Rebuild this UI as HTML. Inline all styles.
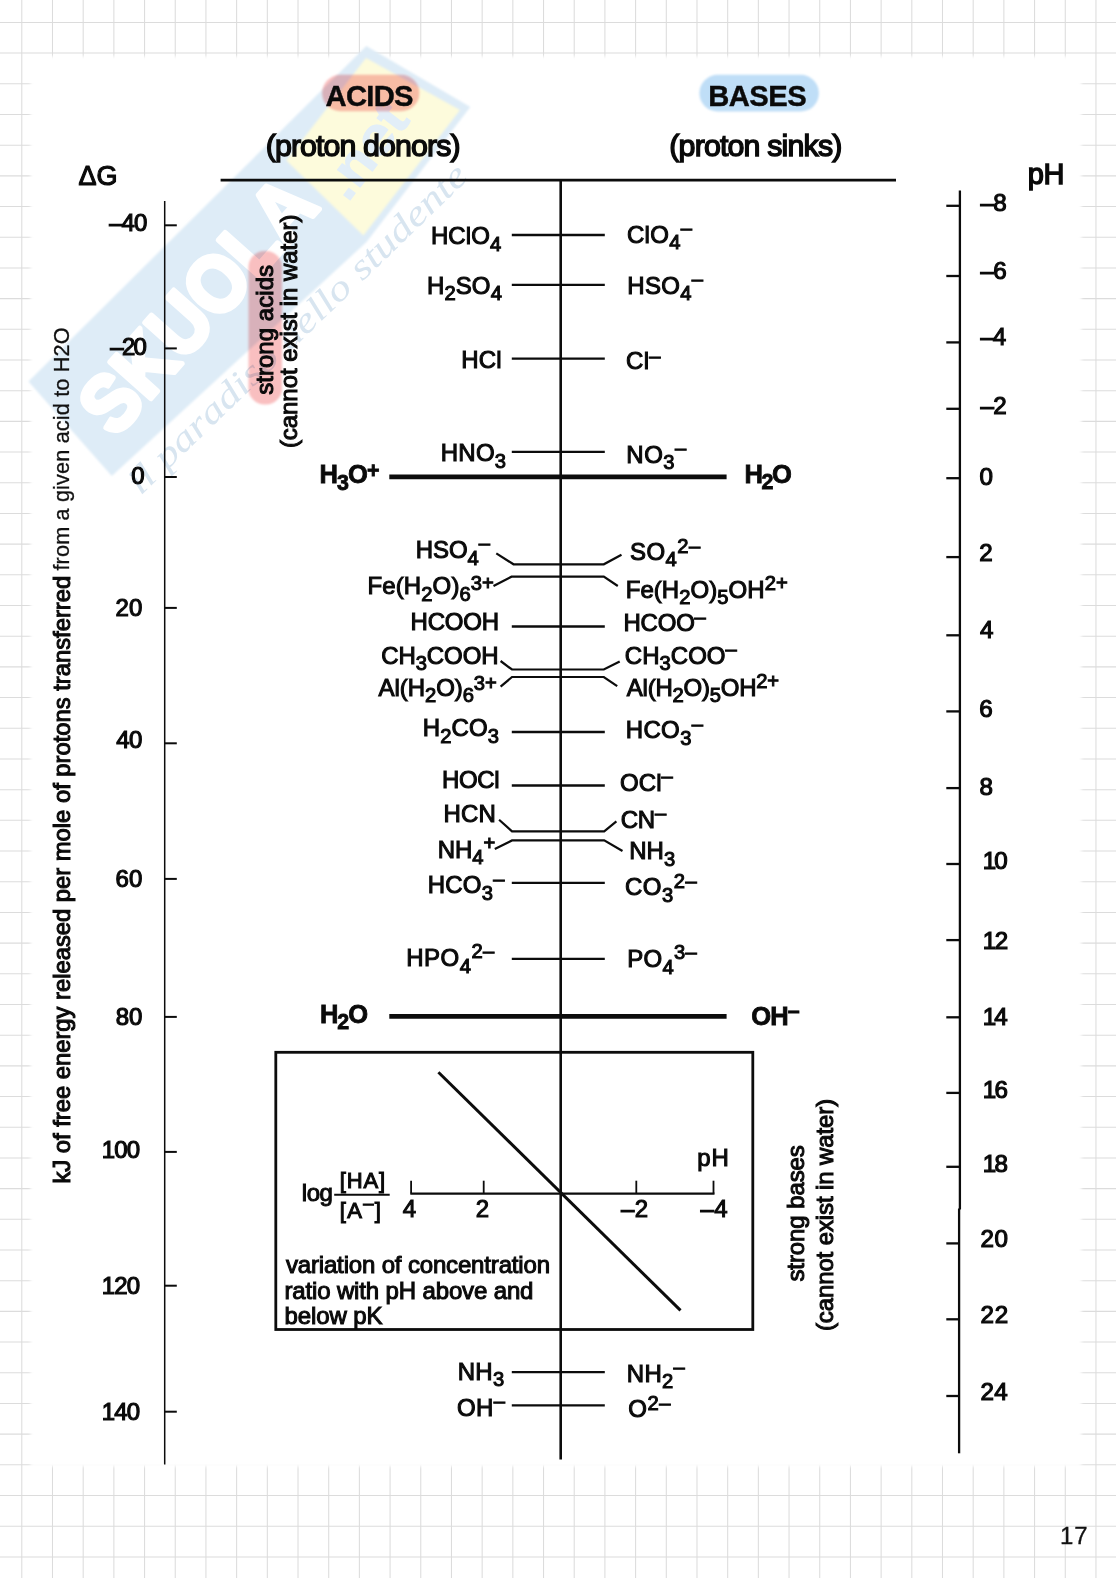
<!DOCTYPE html>
<html lang="en"><head><meta charset="utf-8"><title>Acids and bases – proton free energy diagram</title>
<style>
html,body{margin:0;padding:0;background:#fff}
body{width:1116px;height:1578px;overflow:hidden}
svg{display:block}
text{font-family:"Liberation Sans",Arial,Helvetica,sans-serif;fill:#0a0a0a;font-kerning:none;white-space:pre}
text.h{stroke:#0a0a0a;stroke-width:1.05px}
text.bh.b{stroke:#0a0a0a;stroke-width:.4px}
text.hd{stroke:#0a0a0a;stroke-width:1.4px}
text.hh{stroke:#0a0a0a;stroke-width:1.15px}
text.b{font-weight:bold;stroke-width:.8px}
text.l{fill:#111;stroke:#111;stroke-width:.3px}
text.wm{font-weight:bold;stroke-linejoin:round}
text.wmt{font-family:"Liberation Serif","DejaVu Serif",serif;font-style:italic}
</style></head><body>
<svg width="1116" height="1578" viewBox="0 0 1116 1578">
<defs>
<filter id="soft" x="-2%" y="-2%" width="104%" height="104%"><feGaussianBlur stdDeviation="1.6"/></filter>
<filter id="soft1" x="-10%" y="-10%" width="120%" height="120%"><feGaussianBlur stdDeviation="0.9"/></filter>
<filter id="soft2" x="-5%" y="-5%" width="110%" height="110%"><feGaussianBlur stdDeviation="0.8"/></filter>
</defs>
<g stroke="#dcdcdc" stroke-width="1.05">
<line x1="21.80" y1="0" x2="21.80" y2="1578"/>
<line x1="52.49" y1="0" x2="52.49" y2="1578"/>
<line x1="83.18" y1="0" x2="83.18" y2="1578"/>
<line x1="113.87" y1="0" x2="113.87" y2="1578"/>
<line x1="144.56" y1="0" x2="144.56" y2="1578"/>
<line x1="175.25" y1="0" x2="175.25" y2="1578"/>
<line x1="205.94" y1="0" x2="205.94" y2="1578"/>
<line x1="236.63" y1="0" x2="236.63" y2="1578"/>
<line x1="267.32" y1="0" x2="267.32" y2="1578"/>
<line x1="298.01" y1="0" x2="298.01" y2="1578"/>
<line x1="328.70" y1="0" x2="328.70" y2="1578"/>
<line x1="359.39" y1="0" x2="359.39" y2="1578"/>
<line x1="390.08" y1="0" x2="390.08" y2="1578"/>
<line x1="420.77" y1="0" x2="420.77" y2="1578"/>
<line x1="451.46" y1="0" x2="451.46" y2="1578"/>
<line x1="482.15" y1="0" x2="482.15" y2="1578"/>
<line x1="512.84" y1="0" x2="512.84" y2="1578"/>
<line x1="543.53" y1="0" x2="543.53" y2="1578"/>
<line x1="574.22" y1="0" x2="574.22" y2="1578"/>
<line x1="604.91" y1="0" x2="604.91" y2="1578"/>
<line x1="635.60" y1="0" x2="635.60" y2="1578"/>
<line x1="666.29" y1="0" x2="666.29" y2="1578"/>
<line x1="696.98" y1="0" x2="696.98" y2="1578"/>
<line x1="727.67" y1="0" x2="727.67" y2="1578"/>
<line x1="758.36" y1="0" x2="758.36" y2="1578"/>
<line x1="789.05" y1="0" x2="789.05" y2="1578"/>
<line x1="819.74" y1="0" x2="819.74" y2="1578"/>
<line x1="850.43" y1="0" x2="850.43" y2="1578"/>
<line x1="881.12" y1="0" x2="881.12" y2="1578"/>
<line x1="911.81" y1="0" x2="911.81" y2="1578"/>
<line x1="942.50" y1="0" x2="942.50" y2="1578"/>
<line x1="973.19" y1="0" x2="973.19" y2="1578"/>
<line x1="1003.88" y1="0" x2="1003.88" y2="1578"/>
<line x1="1034.57" y1="0" x2="1034.57" y2="1578"/>
<line x1="1065.26" y1="0" x2="1065.26" y2="1578"/>
<line x1="1095.95" y1="0" x2="1095.95" y2="1578"/>
<line x1="0" y1="22.40" x2="1116" y2="22.40"/>
<line x1="0" y1="53.09" x2="1116" y2="53.09"/>
<line x1="0" y1="83.78" x2="1116" y2="83.78"/>
<line x1="0" y1="114.47" x2="1116" y2="114.47"/>
<line x1="0" y1="145.16" x2="1116" y2="145.16"/>
<line x1="0" y1="175.85" x2="1116" y2="175.85"/>
<line x1="0" y1="206.54" x2="1116" y2="206.54"/>
<line x1="0" y1="237.23" x2="1116" y2="237.23"/>
<line x1="0" y1="267.92" x2="1116" y2="267.92"/>
<line x1="0" y1="298.61" x2="1116" y2="298.61"/>
<line x1="0" y1="329.30" x2="1116" y2="329.30"/>
<line x1="0" y1="359.99" x2="1116" y2="359.99"/>
<line x1="0" y1="390.68" x2="1116" y2="390.68"/>
<line x1="0" y1="421.37" x2="1116" y2="421.37"/>
<line x1="0" y1="452.06" x2="1116" y2="452.06"/>
<line x1="0" y1="482.75" x2="1116" y2="482.75"/>
<line x1="0" y1="513.44" x2="1116" y2="513.44"/>
<line x1="0" y1="544.13" x2="1116" y2="544.13"/>
<line x1="0" y1="574.82" x2="1116" y2="574.82"/>
<line x1="0" y1="605.51" x2="1116" y2="605.51"/>
<line x1="0" y1="636.20" x2="1116" y2="636.20"/>
<line x1="0" y1="666.89" x2="1116" y2="666.89"/>
<line x1="0" y1="697.58" x2="1116" y2="697.58"/>
<line x1="0" y1="728.27" x2="1116" y2="728.27"/>
<line x1="0" y1="758.96" x2="1116" y2="758.96"/>
<line x1="0" y1="789.65" x2="1116" y2="789.65"/>
<line x1="0" y1="820.34" x2="1116" y2="820.34"/>
<line x1="0" y1="851.03" x2="1116" y2="851.03"/>
<line x1="0" y1="881.72" x2="1116" y2="881.72"/>
<line x1="0" y1="912.41" x2="1116" y2="912.41"/>
<line x1="0" y1="943.10" x2="1116" y2="943.10"/>
<line x1="0" y1="973.79" x2="1116" y2="973.79"/>
<line x1="0" y1="1004.48" x2="1116" y2="1004.48"/>
<line x1="0" y1="1035.17" x2="1116" y2="1035.17"/>
<line x1="0" y1="1065.86" x2="1116" y2="1065.86"/>
<line x1="0" y1="1096.55" x2="1116" y2="1096.55"/>
<line x1="0" y1="1127.24" x2="1116" y2="1127.24"/>
<line x1="0" y1="1157.93" x2="1116" y2="1157.93"/>
<line x1="0" y1="1188.62" x2="1116" y2="1188.62"/>
<line x1="0" y1="1219.31" x2="1116" y2="1219.31"/>
<line x1="0" y1="1250.00" x2="1116" y2="1250.00"/>
<line x1="0" y1="1280.69" x2="1116" y2="1280.69"/>
<line x1="0" y1="1311.38" x2="1116" y2="1311.38"/>
<line x1="0" y1="1342.07" x2="1116" y2="1342.07"/>
<line x1="0" y1="1372.76" x2="1116" y2="1372.76"/>
<line x1="0" y1="1403.45" x2="1116" y2="1403.45"/>
<line x1="0" y1="1434.14" x2="1116" y2="1434.14"/>
<line x1="0" y1="1464.83" x2="1116" y2="1464.83"/>
<line x1="0" y1="1495.52" x2="1116" y2="1495.52"/>
<line x1="0" y1="1526.21" x2="1116" y2="1526.21"/>
<line x1="0" y1="1556.90" x2="1116" y2="1556.90"/>
</g>
<rect x="30.5" y="56.5" width="1051" height="1410" fill="#fff" filter="url(#soft)"/>
<g id="wm">
<polygon points="28.5,381.5 366.3,46.1 470.3,107 366.5,242 111.8,476.1" fill="#deecf7" filter="url(#soft2)"/>
<polygon points="286.3,160.4 366,58 460,110 363.4,235.6" fill="#fdfbdc" filter="url(#soft2)"/>
<text class="wm" transform="translate(197.1,304.6) rotate(-48.3)" x="0" y="28" text-anchor="middle" font-size="80" textLength="310" lengthAdjust="spacingAndGlyphs" style="fill:#fff;stroke:#fff;stroke-width:5px">SKUOLA</text>
<text class="wm" transform="translate(347.8,203.1) rotate(-52.5)" x="0" y="0" font-size="54" textLength="104" lengthAdjust="spacingAndGlyphs" style="fill:#e2eef8;stroke:#e2eef8;stroke-width:1px">.net</text>
<text class="wmt" transform="translate(140.4,496) rotate(-44)" x="0" y="0" font-size="36" textLength="458" lengthAdjust="spacingAndGlyphs" style="fill:#d8e5f0">il paradiso dello studente</text>
</g>
<rect x="322.1" y="74.8" width="97.3" height="36.4" rx="18.2" fill="#f9bfc0" filter="url(#soft1)" style="mix-blend-mode:multiply"/>
<rect x="699.4" y="74.8" width="119.5" height="36.7" rx="18.3" fill="#bfdef7" filter="url(#soft1)"/>
<rect x="248.5" y="251" width="33.5" height="153.5" rx="16" fill="#f9bfc0" filter="url(#soft1)" style="mix-blend-mode:multiply"/>
<g stroke="#0c0c0c" stroke-linecap="butt" stroke-linejoin="miter">
<line x1="220.60" y1="180.20" x2="896.00" y2="180.20" stroke-width="2.7"/>
<line x1="560.70" y1="180.00" x2="560.70" y2="1459.60" stroke-width="2.6"/>
<line x1="164.70" y1="200.90" x2="164.70" y2="1464.40" stroke-width="1.5"/>
<line x1="164.70" y1="225.30" x2="176.80" y2="225.30" stroke-width="2"/>
<line x1="164.70" y1="348.40" x2="176.80" y2="348.40" stroke-width="2"/>
<line x1="164.70" y1="477.00" x2="176.80" y2="477.00" stroke-width="2"/>
<line x1="164.70" y1="607.90" x2="176.80" y2="607.90" stroke-width="2"/>
<line x1="164.70" y1="743.30" x2="176.80" y2="743.30" stroke-width="2"/>
<line x1="164.70" y1="878.90" x2="176.80" y2="878.90" stroke-width="2"/>
<line x1="164.70" y1="1016.90" x2="176.80" y2="1016.90" stroke-width="2"/>
<line x1="164.70" y1="1151.90" x2="176.80" y2="1151.90" stroke-width="2"/>
<line x1="164.70" y1="1285.70" x2="176.80" y2="1285.70" stroke-width="2"/>
<line x1="164.70" y1="1411.70" x2="176.80" y2="1411.70" stroke-width="2"/>
<line x1="959.90" y1="190.40" x2="959.90" y2="1209.50" stroke-width="2.3"/>
<line x1="959.10" y1="1208.50" x2="959.10" y2="1453.30" stroke-width="2.3"/>
<line x1="946.30" y1="205.80" x2="959.60" y2="205.80" stroke-width="2.3"/>
<line x1="946.30" y1="276.00" x2="959.60" y2="276.00" stroke-width="2.3"/>
<line x1="946.30" y1="342.40" x2="959.60" y2="342.40" stroke-width="2.3"/>
<line x1="946.30" y1="408.80" x2="959.60" y2="408.80" stroke-width="2.3"/>
<line x1="946.30" y1="478.20" x2="959.60" y2="478.20" stroke-width="2.3"/>
<line x1="946.30" y1="557.10" x2="959.60" y2="557.10" stroke-width="2.3"/>
<line x1="946.30" y1="635.30" x2="959.60" y2="635.30" stroke-width="2.3"/>
<line x1="946.30" y1="711.40" x2="959.60" y2="711.40" stroke-width="2.3"/>
<line x1="946.30" y1="788.10" x2="959.60" y2="788.10" stroke-width="2.3"/>
<line x1="946.30" y1="864.00" x2="959.60" y2="864.00" stroke-width="2.3"/>
<line x1="946.30" y1="940.10" x2="959.60" y2="940.10" stroke-width="2.3"/>
<line x1="946.30" y1="1017.30" x2="959.60" y2="1017.30" stroke-width="2.3"/>
<line x1="946.30" y1="1092.90" x2="959.60" y2="1092.90" stroke-width="2.3"/>
<line x1="946.30" y1="1166.80" x2="959.60" y2="1166.80" stroke-width="2.3"/>
<line x1="946.30" y1="1243.40" x2="959.60" y2="1243.40" stroke-width="2.3"/>
<line x1="946.30" y1="1319.30" x2="959.60" y2="1319.30" stroke-width="2.3"/>
<line x1="946.30" y1="1396.00" x2="959.60" y2="1396.00" stroke-width="2.3"/>
<line x1="511.80" y1="235.00" x2="604.80" y2="235.00" stroke-width="2.3"/>
<line x1="511.80" y1="284.90" x2="604.80" y2="284.90" stroke-width="2.3"/>
<line x1="511.80" y1="358.60" x2="604.80" y2="358.60" stroke-width="2.3"/>
<line x1="511.80" y1="451.90" x2="604.80" y2="451.90" stroke-width="2.3"/>
<line x1="511.80" y1="626.50" x2="604.80" y2="626.50" stroke-width="2.3"/>
<line x1="511.80" y1="732.00" x2="604.80" y2="732.00" stroke-width="2.3"/>
<line x1="511.80" y1="882.90" x2="604.80" y2="882.90" stroke-width="2.3"/>
<line x1="511.80" y1="958.90" x2="604.80" y2="958.90" stroke-width="2.3"/>
<line x1="511.80" y1="1372.20" x2="604.80" y2="1372.20" stroke-width="2.3"/>
<line x1="511.80" y1="1405.40" x2="604.80" y2="1405.40" stroke-width="2.3"/>
<line x1="511.80" y1="785.40" x2="604.80" y2="785.40" stroke-width="2.5"/>
<line x1="389.30" y1="476.80" x2="726.60" y2="476.80" stroke-width="4.8"/>
<line x1="389.30" y1="1016.30" x2="726.60" y2="1016.30" stroke-width="4.8"/>
<polyline points="496.30,553.40 513.50,564.30 603.80,564.30 621.50,554.80" stroke-width="2.2" fill="none"/>
<polyline points="493.50,586.00 511.50,576.70 603.80,576.70 617.80,586.00" stroke-width="2.2" fill="none"/>
<polyline points="500.60,661.00 512.00,669.50 603.80,669.50 619.70,661.50" stroke-width="2.2" fill="none"/>
<polyline points="500.60,686.70 512.00,677.00 603.80,677.00 617.20,686.20" stroke-width="2.2" fill="none"/>
<polyline points="499.10,819.80 512.00,831.30 604.20,831.30 616.40,821.30" stroke-width="2.2" fill="none"/>
<polyline points="494.80,849.00 512.00,840.40 604.20,840.40 622.50,851.00" stroke-width="2.2" fill="none"/>
<rect x="275.8" y="1052.3" width="477" height="277.2" fill="none" stroke-width="2.8"/>
<line x1="438.40" y1="1072.20" x2="680.50" y2="1310.40" stroke-width="3"/>
<line x1="410.30" y1="1193.60" x2="714.50" y2="1193.60" stroke-width="2.4"/>
<line x1="411.10" y1="1180.70" x2="411.10" y2="1193.60" stroke-width="1.8"/>
<line x1="483.70" y1="1180.70" x2="483.70" y2="1193.60" stroke-width="1.8"/>
<line x1="636.30" y1="1180.70" x2="636.30" y2="1193.60" stroke-width="1.8"/>
<line x1="713.50" y1="1180.70" x2="713.50" y2="1193.60" stroke-width="1.8"/>
<line x1="334.20" y1="1194.70" x2="389.70" y2="1194.70" stroke-width="2"/>
</g>
<text class="bh b" font-size="29.2" letter-spacing="-0.696" x="325.57" y="106.10">ACIDS</text>
<text class="hd" font-size="30.4" letter-spacing="-0.919" x="265.71" y="156.10">(proton donors)</text>
<text class="bh b" font-size="29.2" letter-spacing="-0.527" x="708.25" y="106.10">BASES</text>
<text class="hd" font-size="30.4" letter-spacing="-0.845" x="669.31" y="156.10">(proton sinks)</text>
<text class="hh" font-size="27" letter-spacing="0.085" x="78.50" y="185.10">ΔG</text>
<text class="hd" font-size="29" letter-spacing="-0.537" x="1027.83" y="184.00">pH</text>
<text class="hh" font-size="24" letter-spacing="-1.003" x="109.20" y="231.30">–40</text>
<text class="hh" font-size="24" letter-spacing="-1.753" x="110.30" y="354.70">–20</text>
<text class="hh" font-size="24" letter-spacing="0.027" x="131.16" y="483.70">0</text>
<text class="hh" font-size="24" letter-spacing="0.149" x="115.49" y="615.80">20</text>
<text class="hh" font-size="24" letter-spacing="-0.507" x="116.15" y="748.30">40</text>
<text class="hh" font-size="24" letter-spacing="0.161" x="115.48" y="886.90">60</text>
<text class="hh" font-size="24" letter-spacing="-0.015" x="115.66" y="1024.90">80</text>
<text class="hh" font-size="24" letter-spacing="-0.739" x="101.67" y="1157.90">100</text>
<text class="hh" font-size="24" letter-spacing="-0.739" x="101.67" y="1294.00">120</text>
<text class="hh" font-size="24" letter-spacing="-0.739" x="101.67" y="1419.50">140</text>
<text class="hh" font-size="24.2" letter-spacing="-0.766" x="980.50" y="211.10">–8</text>
<text class="hh" font-size="24.2" letter-spacing="-0.754" x="980.50" y="279.00">–6</text>
<text class="hh" font-size="24.2" letter-spacing="-1.109" x="980.50" y="344.90">–4</text>
<text class="hh" font-size="24.2" letter-spacing="-0.601" x="980.50" y="413.70">–2</text>
<text class="hh" font-size="24.2" letter-spacing="-0.468" x="979.55" y="485.20">0</text>
<text class="hh" font-size="24.2" letter-spacing="0.075" x="979.28" y="560.70">2</text>
<text class="hh" font-size="24.2" letter-spacing="-1.095" x="979.94" y="637.90">4</text>
<text class="hh" font-size="24.2" letter-spacing="-0.067" x="979.27" y="717.20">6</text>
<text class="hh" font-size="24.2" letter-spacing="-0.256" x="979.45" y="795.30">8</text>
<text class="hh" font-size="24.2" letter-spacing="-1.829" x="982.76" y="869.00">10</text>
<text class="hh" font-size="24.2" letter-spacing="-1.557" x="982.76" y="949.40">12</text>
<text class="hh" font-size="24.2" letter-spacing="-2.065" x="982.76" y="1025.30">14</text>
<text class="hh" font-size="24.2" letter-spacing="-1.711" x="982.76" y="1098.20">16</text>
<text class="hh" font-size="24.2" letter-spacing="-1.723" x="982.76" y="1171.50">18</text>
<text class="hh" font-size="24.2" letter-spacing="0.345" x="980.58" y="1247.30">20</text>
<text class="hh" font-size="24.2" letter-spacing="0.616" x="980.58" y="1322.80">22</text>
<text class="hh" font-size="24.2" letter-spacing="0.108" x="980.58" y="1400.00">24</text>
<text class="h" font-size="24" letter-spacing="0.071"><tspan x="430.93" y="244.20">HClO</tspan><tspan x="489.88" y="250.70" font-size="20.16">4</tspan></text>
<text class="h" font-size="24" letter-spacing="0.132"><tspan x="426.93" y="293.70">H</tspan><tspan x="444.40" y="300.20" font-size="20.16">2</tspan><tspan x="455.74" y="293.70">SO</tspan><tspan x="490.68" y="300.20" font-size="20.16">4</tspan></text>
<text class="h" font-size="24" letter-spacing="0.089" x="461.33" y="367.50">HCl</text>
<text class="h" font-size="24" letter-spacing="0.304"><tspan x="440.63" y="461.30">HNO</tspan><tspan x="494.87" y="467.80" font-size="20.16">3</tspan></text>
<text class="h" font-size="24" letter-spacing="-0.013"><tspan x="415.63" y="558.20">HSO</tspan><tspan x="467.60" y="564.70" font-size="20.16">4</tspan><tspan x="478.80" y="550.40" font-size="20.16">–</tspan></text>
<text class="h" font-size="24" letter-spacing="0.107"><tspan x="367.53" y="594.00">Fe(H</tspan><tspan x="421.29" y="600.50" font-size="20.16">2</tspan><tspan x="432.61" y="594.00">O)</tspan><tspan x="459.48" y="600.50" font-size="20.16">6</tspan><tspan x="470.80" y="589.60" font-size="20.16">3+</tspan></text>
<text class="h" font-size="24" letter-spacing="-0.177" x="410.53" y="629.90">HCOOH</text>
<text class="h" font-size="24" letter-spacing="-0.083"><tspan x="381.18" y="663.70">CH</tspan><tspan x="415.68" y="670.20" font-size="20.16">3</tspan><tspan x="426.81" y="663.70">COOH</tspan></text>
<text class="h" font-size="24" letter-spacing="-0.055"><tspan x="378.55" y="695.80">Al(H</tspan><tspan x="425.00" y="702.30" font-size="20.16">2</tspan><tspan x="436.16" y="695.80">O)</tspan><tspan x="462.71" y="702.30" font-size="20.16">6</tspan><tspan x="473.86" y="690.20" font-size="20.16">3+</tspan></text>
<text class="h" font-size="24" letter-spacing="0.100"><tspan x="422.83" y="736.30">H</tspan><tspan x="440.26" y="742.80" font-size="20.16">2</tspan><tspan x="451.57" y="736.30">CO</tspan><tspan x="487.77" y="742.80" font-size="20.16">3</tspan></text>
<text class="h" font-size="24" letter-spacing="-0.330" x="442.03" y="787.50">HOCl</text>
<text class="h" font-size="24" letter-spacing="0.115" x="443.53" y="822.30">HCN</text>
<text class="h" font-size="24" letter-spacing="-0.029"><tspan x="437.73" y="857.50">NH</tspan><tspan x="472.34" y="864.00" font-size="20.16">4</tspan><tspan x="483.52" y="849.70" font-size="20.16">+</tspan></text>
<text class="h" font-size="24" letter-spacing="0.231"><tspan x="427.73" y="893.40">HCO</tspan><tspan x="481.76" y="899.90" font-size="20.16">3</tspan><tspan x="493.20" y="885.60" font-size="20.16">–</tspan></text>
<text class="h" font-size="24" letter-spacing="0.487"><tspan x="406.23" y="966.20">HPO</tspan><tspan x="459.70" y="972.70" font-size="20.16">4</tspan><tspan x="471.40" y="958.40" font-size="20.16">2–</tspan></text>
<text class="h" font-size="24" letter-spacing="0.339"><tspan x="457.63" y="1379.90">NH</tspan><tspan x="492.97" y="1386.40" font-size="20.16">3</tspan></text>
<text class="h" font-size="24" letter-spacing="0.417"><tspan x="456.96" y="1415.70">OH</tspan><tspan x="493.80" y="1407.90" font-size="20.16">–</tspan></text>
<text class="h" font-size="24" letter-spacing="0.318"><tspan x="626.98" y="242.90">ClO</tspan><tspan x="669.27" y="249.40" font-size="20.16">4</tspan><tspan x="680.80" y="235.30" font-size="20.16">–</tspan></text>
<text class="h" font-size="24" letter-spacing="0.287"><tspan x="627.33" y="293.70">HSO</tspan><tspan x="680.20" y="300.20" font-size="20.16">4</tspan><tspan x="691.70" y="285.90" font-size="20.16">–</tspan></text>
<text class="h" font-size="24" letter-spacing="0.226"><tspan x="626.08" y="368.90">Cl</tspan><tspan x="649.20" y="362.70" font-size="20.16">–</tspan></text>
<text class="h" font-size="24" letter-spacing="0.518"><tspan x="626.33" y="462.80">NO</tspan><tspan x="663.37" y="469.30" font-size="20.16">3</tspan><tspan x="675.10" y="455.00" font-size="20.16">–</tspan></text>
<text class="h" font-size="24" letter-spacing="0.447"><tspan x="630.01" y="559.60">SO</tspan><tspan x="665.58" y="566.10" font-size="20.16">4</tspan><tspan x="677.24" y="553.10" font-size="20.16">2–</tspan></text>
<text class="h" font-size="24" letter-spacing="0.051"><tspan x="625.73" y="597.80">Fe(H</tspan><tspan x="679.27" y="604.30" font-size="20.16">2</tspan><tspan x="690.53" y="597.80">O)</tspan><tspan x="717.29" y="604.30" font-size="20.16">5</tspan><tspan x="728.56" y="597.80">OH</tspan><tspan x="764.66" y="589.50" font-size="20.16">2+</tspan></text>
<text class="h" font-size="24" letter-spacing="-0.208"><tspan x="623.43" y="631.30">HCOO</tspan><tspan x="694.60" y="623.50" font-size="20.16">–</tspan></text>
<text class="h" font-size="24" letter-spacing="0.045"><tspan x="624.78" y="663.70">CH</tspan><tspan x="659.54" y="670.20" font-size="20.16">3</tspan><tspan x="670.79" y="663.70">COO</tspan><tspan x="725.60" y="655.90" font-size="20.16">–</tspan></text>
<text class="h" font-size="24" letter-spacing="-0.217"><tspan x="626.75" y="695.80">Al(H</tspan><tspan x="672.55" y="702.30" font-size="20.16">2</tspan><tspan x="683.54" y="695.80">O)</tspan><tspan x="709.77" y="702.30" font-size="20.16">5</tspan><tspan x="720.76" y="695.80">OH</tspan><tspan x="756.33" y="688.00" font-size="20.16">2+</tspan></text>
<text class="h" font-size="24" letter-spacing="0.356"><tspan x="625.73" y="738.30">HCO</tspan><tspan x="680.13" y="744.80" font-size="20.16">3</tspan><tspan x="691.70" y="730.50" font-size="20.16">–</tspan></text>
<text class="h" font-size="24" letter-spacing="0.101"><tspan x="619.96" y="790.80">OCl</tspan><tspan x="661.60" y="783.00" font-size="20.16">–</tspan></text>
<text class="h" font-size="24" letter-spacing="-0.174"><tspan x="620.68" y="828.00">CN</tspan><tspan x="655.00" y="820.20" font-size="20.16">–</tspan></text>
<text class="h" font-size="24" letter-spacing="0.089"><tspan x="629.13" y="859.00">NH</tspan><tspan x="663.97" y="865.50" font-size="20.16">3</tspan></text>
<text class="h" font-size="24" letter-spacing="0.498"><tspan x="624.98" y="895.40">CO</tspan><tspan x="661.98" y="901.90" font-size="20.16">3</tspan><tspan x="673.69" y="887.60" font-size="20.16">2–</tspan></text>
<text class="h" font-size="24" letter-spacing="0.292"><tspan x="627.13" y="967.10">PO</tspan><tspan x="662.39" y="973.60" font-size="20.16">4</tspan><tspan x="673.89" y="959.30" font-size="20.16">3–</tspan></text>
<text class="h" font-size="24" letter-spacing="0.297"><tspan x="626.83" y="1381.50">NH</tspan><tspan x="662.09" y="1388.00" font-size="20.16">2</tspan><tspan x="673.60" y="1373.70" font-size="20.16">–</tspan></text>
<text class="h" font-size="24" letter-spacing="0.627"><tspan x="628.16" y="1417.40">O</tspan><tspan x="647.46" y="1409.60" font-size="20.16">2–</tspan></text>
<text class="h b" font-size="25.5" letter-spacing="-0.933"><tspan x="319.59" y="483.10">H</tspan><tspan x="337.08" y="489.60" font-size="21.42">3</tspan><tspan x="348.06" y="483.10">O</tspan><tspan x="366.96" y="477.70" font-size="21.42">+</tspan></text>
<text class="h b" font-size="25.5" letter-spacing="-1.393"><tspan x="744.49" y="482.90">H</tspan><tspan x="761.52" y="489.40" font-size="21.42">2</tspan><tspan x="772.04" y="482.90">O</tspan></text>
<text class="h b" font-size="25.5" letter-spacing="-0.993"><tspan x="319.89" y="1022.70">H</tspan><tspan x="337.32" y="1029.20" font-size="21.42">2</tspan><tspan x="348.24" y="1022.70">O</tspan></text>
<text class="h b" font-size="25.5" letter-spacing="-0.829"><tspan x="751.15" y="1025.40">OH</tspan><tspan x="787.75" y="1017.60" font-size="21.42">–</tspan></text>
<text class="h" font-size="24" letter-spacing="-0.432" x="301.78" y="1200.70">log</text>
<text class="h" font-size="22" letter-spacing="0.817" x="339.83" y="1187.70">[HA]</text>
<text class="h" font-size="22" letter-spacing="1.287"><tspan x="339.83" y="1217.90">[A</tspan><tspan x="363.19" y="1209.30" font-size="18.48">–</tspan><tspan x="374.76" y="1217.90">]</tspan></text>
<text class="h" font-size="24" letter-spacing="0.806" x="402.85" y="1216.60">4</text>
<text class="h" font-size="24" letter-spacing="1.466" x="475.79" y="1216.60">2</text>
<text class="h" font-size="24" letter-spacing="0.512" x="620.90" y="1216.60">–2</text>
<text class="h" font-size="24" letter-spacing="0.408" x="700.60" y="1216.60">–4</text>
<text class="h" font-size="24" letter-spacing="1.024" x="697.25" y="1165.80">pH</text>
<text class="h" font-size="24" letter-spacing="-0.161" x="285.92" y="1272.80">variation of concentration</text>
<text class="h" font-size="24" letter-spacing="-0.141" x="284.41" y="1298.60">ratio with pH above and</text>
<text class="h" font-size="24" letter-spacing="-0.102" x="284.45" y="1323.50">below pK</text>
<text class="h" font-size="24" letter-spacing="0.049" transform="translate(272.60,394.20) rotate(-90)" x="-0.67" y="0.00">strong acids</text>
<text class="h" font-size="24" letter-spacing="-0.058" transform="translate(297.40,446.60) rotate(-90)" x="-1.49" y="0.00">(cannot exist in water)</text>
<text class="h" font-size="24" letter-spacing="-0.098" transform="translate(803.80,1280.90) rotate(-90)" x="-0.67" y="0.00">strong bases</text>
<text class="h" font-size="24" letter-spacing="-0.113" transform="translate(832.50,1329.60) rotate(-90)" x="-1.49" y="0.00">(cannot exist in water)</text>
<text class="h" font-size="23.8" letter-spacing="-0.012" transform="translate(70.00,1182.00) rotate(-90)" x="-1.60" y="0.00">kJ of free energy released per mole of protons transferred</text>
<text class="l" font-size="21.7" letter-spacing="0.145" transform="translate(69.00,570.30) rotate(-90)" x="-0.31" y="0.00">from a given acid to H2O</text>
<text class="l" font-size="24" letter-spacing="0.940" x="1059.97" y="1544.10">17</text>
</svg>
</body></html>
